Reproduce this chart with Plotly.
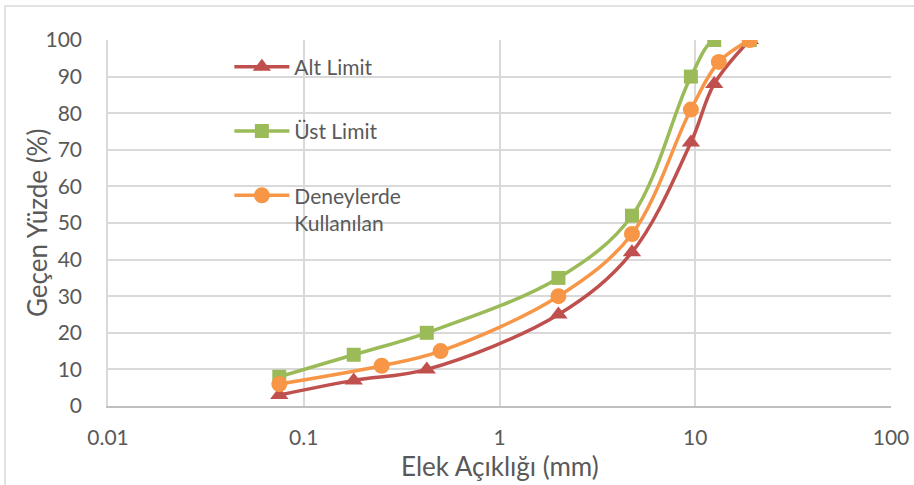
import plotly.graph_objects as go

# Data
alt_x = [0.075, 0.18, 0.425, 2, 4.75, 9.5, 12.5, 19]
alt_y = [3, 7, 10, 25, 42, 72, 88, 100]
ust_x = [0.075, 0.18, 0.425, 2, 4.75, 9.5, 12.5, 19]
ust_y = [8, 14, 20, 35, 52, 90, 100, 100]
den_x = [0.075, 0.25, 0.5, 2, 4.75, 9.5, 13.2, 19]
den_y = [6, 11, 15, 30, 47, 81, 94, 100]

x_ticks = [0.01, 0.1, 1, 10, 100]
x_tick_labels = ["0.01", "0.1", "1", "10", "100"]
y_ticks = list(range(0, 101, 10))

x_title = "Elek Açıklığı (mm)"
y_title = "Geçen Yüzde (%)"

FONT = "Lato"
GRAY_TXT = "#595959"

fig = go.Figure()
series = [
    ("Alt Limit", alt_x, alt_y, "#C0504D", "triangle-up", 16),
    ("Üst Limit", ust_x, ust_y, "#9BBB59", "square", 14),
    ("Deneylerde<br>Kullanılan", den_x, den_y, "#F79646", "circle", 16),
]
for i, (name, xs, ys, col, sym, ms) in enumerate(series):
    fig.add_trace(go.Scatter(
        x=xs, y=ys, name=name, mode="lines+markers",
        line=dict(color=col, width=3.5, shape="spline", smoothing=1),
        marker=dict(color=col, symbol=sym, size=ms),
        legendgroup=f"g{i}",
    ))

fig.update_layout(
    width=914, height=485,
    margin=dict(l=108, r=23, t=40, b=79),
    paper_bgcolor="white", plot_bgcolor="white",
    font=dict(family=FONT, size=20, color=GRAY_TXT),
    showlegend=True,
    legend=dict(
        x=0.155, y=0.982, xanchor="left", yanchor="top",
        bgcolor="rgba(0,0,0,0)", tracegroupgap=34, valign="top",
        itemwidth=55,
        font=dict(family=FONT, size=21, color=GRAY_TXT),
    ),
    xaxis=dict(
        type="log", range=[-2, 2], automargin=False,
        tickvals=x_ticks, ticktext=x_tick_labels,
        showgrid=True, gridcolor="#D9D9D9", gridwidth=1.5,
        showline=True, linecolor="#BFBFBF", linewidth=1.5,
        zeroline=False, ticks="", ticklabelstandoff=12,
        tickfont=dict(size=21, color=GRAY_TXT),
    ),
    yaxis=dict(
        range=[0, 100], tickvals=y_ticks, automargin=False,
        showgrid=True, gridcolor="#D9D9D9", gridwidth=1.5,
        showline=True, linecolor="#D9D9D9", linewidth=1.5,
        zeroline=False, ticks="", ticklabelstandoff=20,
        tickfont=dict(size=21, color=GRAY_TXT),
    ),
    annotations=[
        dict(text=x_title, xref="paper", yref="paper", x=0.5, y=(406 - 466) / 366,
             xanchor="center", yanchor="middle", showarrow=False,
             font=dict(size=26, color=GRAY_TXT, family=FONT)),
        dict(text=y_title, xref="paper", yref="paper", x=(37 - 108) / 783, y=0.5,
             xanchor="center", yanchor="middle", showarrow=False, textangle=-90,
             font=dict(size=26, color=GRAY_TXT, family=FONT)),
    ],
    shapes=[dict(
        type="rect", xref="paper", yref="paper",
        x0=(5 - 108) / 783, x1=1.2, y0=-0.4, y1=(406 - 6) / 366,
        line=dict(color="#D9D9D9", width=1.5), layer="below",
    )],
)

fig.write_html("out.html")
